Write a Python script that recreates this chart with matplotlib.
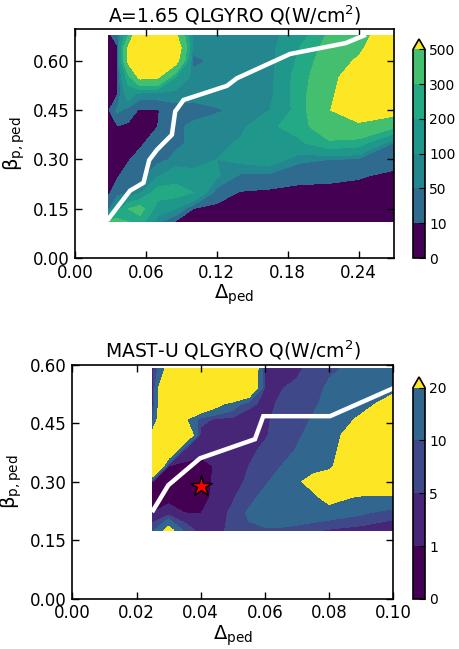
import numpy as np
import matplotlib
matplotlib.use("Agg")
import matplotlib.pyplot as plt
from matplotlib.ticker import FormatStrFormatter

plt.rcParams['font.family'] = ['DejaVu Sans']
plt.rcParams['mathtext.default'] = 'regular'

# ---------------- top panel data ----------------
top_title = "A=1.65 QLGYRO Q(W/cm$^2$)"
top_levels = [0, 10, 50, 100, 200, 300, 500]
top_level_labels = ["0", "10", "50", "100", "200", "300", "500"]
top_colors = ['#440154', '#2f6b8e', '#24868e', '#1f978b', '#23a983', '#44bf70', '#fde725']
top_x = [0.028, 0.036, 0.045, 0.055, 0.07, 0.085, 0.1, 0.12, 0.14, 0.165, 0.19, 0.215, 0.24, 0.27]
top_y = [0.11, 0.15, 0.20, 0.25, 0.30, 0.35, 0.40, 0.45, 0.50, 0.55, 0.60, 0.64, 0.677]
# Q values, one list per Delta column (bottom -> top in beta)
top_Q_cols = [
    [350, 30, 5, 3, 3, 3, 3, 3, 3, 3, 3, 3, 5],
    [350, 150, 25, 8, 4, 4, 8, 60, 8, 8, 8, 8, 20],
    [300, 300, 30, 20, 8, 3, 3, 30, 150, 250, 550, 520, 300],
    [250, 350, 80, 30, 20, 5, 3, 5, 75, 550, 800, 800, 800],
    [60, 150, 250, 90, 35, 25, 10, 8, 75, 520, 800, 800, 800],
    [5, 100, 250, 150, 60, 40, 40, 30, 75, 200, 600, 700, 550],
    [2, 9, 200, 120, 75, 60, 60, 30, 70, 75, 30, 75, 75],
    [2, 3, 25, 110, 100, 75, 70, 45, 75, 75, 70, 75, 75],
    [2, 2, 8, 40, 120, 110, 80, 60, 70, 75, 75, 75, 75],
    [2, 2, 5, 30, 150, 170, 180, 100, 80, 75, 75, 75, 75],
    [2, 2, 3, 18, 60, 180, 250, 240, 250, 250, 220, 200, 150],
    [2, 2, 4, 15, 50, 280, 400, 490, 450, 400, 380, 350, 320],
    [2, 2, 3, 12, 40, 250, 450, 650, 700, 700, 530, 450, 400],
    [2, 2, 3, 5, 20, 45, 322, 600, 700, 750, 750, 750, 700],
]
top_line_x = [0.0283, 0.0466, 0.058, 0.0628, 0.0693, 0.082, 0.0848, 0.0919, 0.1286, 0.137, 0.182, 0.229, 0.2445]
top_line_y = [0.119, 0.205, 0.229, 0.298, 0.329, 0.375, 0.446, 0.481, 0.524, 0.547, 0.621, 0.654, 0.677]
top_xticks = [0.0, 0.06, 0.12, 0.18, 0.24]
top_yticks = [0.0, 0.15, 0.30, 0.45, 0.60]

# ---------------- bottom panel data ----------------
bot_title = "MAST-U QLGYRO Q(W/cm$^2$)"
bot_levels = [0, 1, 5, 10, 20]
bot_level_labels = ["0", "1", "5", "10", "20"]
bot_colors = ['#440154', '#482677', '#3f4889', '#31668e', '#fde725']
bot_x = [0.025, 0.03, 0.035, 0.04, 0.045, 0.05, 0.055, 0.06, 0.065, 0.07, 0.075, 0.08, 0.09, 0.1]
bot_y = [0.176, 0.22, 0.26, 0.30, 0.34, 0.38, 0.42, 0.46, 0.50, 0.54, 0.59]
bot_Q_cols = [
    [8, 1, 0.5, 0.9, 60, 40, 25, 8, 3, 3, 3],
    [25, 2, 0.3, 0.5, 0.7, 40, 50, 50, 50, 50, 25],
    [8, 1, 0.3, 0.2, 0.4, 2.5, 40, 22, 60, 60, 60],
    [3, 0.9, 0.5, 0.4, 0.4, 1.5, 3, 7, 40, 60, 60],
    [3, 3, 1.4, 1.3, 1.2, 3, 3, 4, 25, 60, 60],
    [7, 6, 4.5, 3, 3, 3, 3, 3.5, 15, 60, 60],
    [9, 11, 8, 6, 5, 4, 3, 3, 6, 40, 40],
    [9, 15, 12, 9, 7, 6, 4.5, 4.5, 4, 4, 5],
    [9, 15, 15, 13, 10, 7, 7, 6, 5.5, 4.8, 3],
    [8, 15, 16, 18, 14, 10.5, 9, 8, 7, 6, 4],
    [6, 15, 17, 25, 15, 13, 12, 10.5, 9, 8, 7],
    [4.5, 14, 25, 30, 17, 15, 14, 13, 12, 11, 9],
    [3, 11, 18, 40, 40, 35, 30, 22, 16, 14, 12],
    [2, 7, 18, 40, 45, 45, 40, 35, 25, 17, 15],
]
bot_line_x = [0.0252, 0.0299, 0.0398, 0.0569, 0.0595, 0.0803, 0.0998]
bot_line_y = [0.227, 0.291, 0.360, 0.409, 0.468, 0.468, 0.539]
star_x = [0.04]
star_y = [0.29]
bot_xticks = [0.0, 0.02, 0.04, 0.06, 0.08, 0.10]
bot_yticks = [0.0, 0.15, 0.30, 0.45, 0.60]

W, H = 459, 649
fig = plt.figure(figsize=(W / 100, H / 100), dpi=100)


def rect(l, t, r, b):
    return [l / W, 1 - b / H, (r - l) / W, (b - t) / H]


def style_axes(ax):
    ax.tick_params(direction='in', top=True, right=True, length=5, width=1,
                   labelsize=12, pad=4)
    for s in ax.spines.values():
        s.set_linewidth(1.2)


def panel(ax_rect, cax_rect, x, y, cols, levels, labels, colors, line_x, line_y,
          title, xlim, ylim, xticks, yticks):
    ax = fig.add_axes(ax_rect)
    X, Y = np.meshgrid(x, y)
    Z = np.array(cols, dtype=float).T
    cs = ax.contourf(X, Y, Z, levels=levels, colors=colors, extend='max',
                     antialiased=False)
    ax.plot(line_x, line_y, color='white', lw=3.2, solid_joinstyle='miter')
    ax.set_xlim(*xlim)
    ax.set_ylim(*ylim)
    ax.set_xticks(xticks)
    ax.set_yticks(yticks)
    ax.xaxis.set_major_formatter(FormatStrFormatter('%.2f'))
    ax.yaxis.set_major_formatter(FormatStrFormatter('%.2f'))
    style_axes(ax)
    ax.set_title(title, fontsize=13.5, pad=5)
    ax.set_xlabel(r'$\Delta_{ped}$', fontsize=14, labelpad=1)
    ax.set_ylabel(r'$\beta_{p,ped}$', fontsize=14, labelpad=4)
    cax = fig.add_axes(cax_rect)
    cb = fig.colorbar(cs, cax=cax, ticks=levels)
    cb.ax.set_yticklabels(labels)
    cb.ax.tick_params(direction='in', length=4, labelsize=10, pad=3)
    cb.outline.set_linewidth(1.2)
    return ax


panel(rect(75, 29, 394, 258), rect(413, 39, 425, 258), top_x, top_y, top_Q_cols,
      top_levels, top_level_labels, top_colors, top_line_x, top_line_y,
      top_title, (0, 0.27), (0, 0.697), top_xticks, top_yticks)

axb = panel(rect(72.3, 364.7, 393.3, 598.7), rect(413, 377, 425, 599), bot_x, bot_y,
            bot_Q_cols, bot_levels, bot_level_labels, bot_colors, bot_line_x,
            bot_line_y, bot_title, (0, 0.10), (0, 0.60), bot_xticks, bot_yticks)
axb.plot(star_x, star_y, marker='*', color='red', markersize=16,
         markeredgecolor='black', markeredgewidth=1, linestyle='none')

fig.savefig("out.png", dpi=100)
